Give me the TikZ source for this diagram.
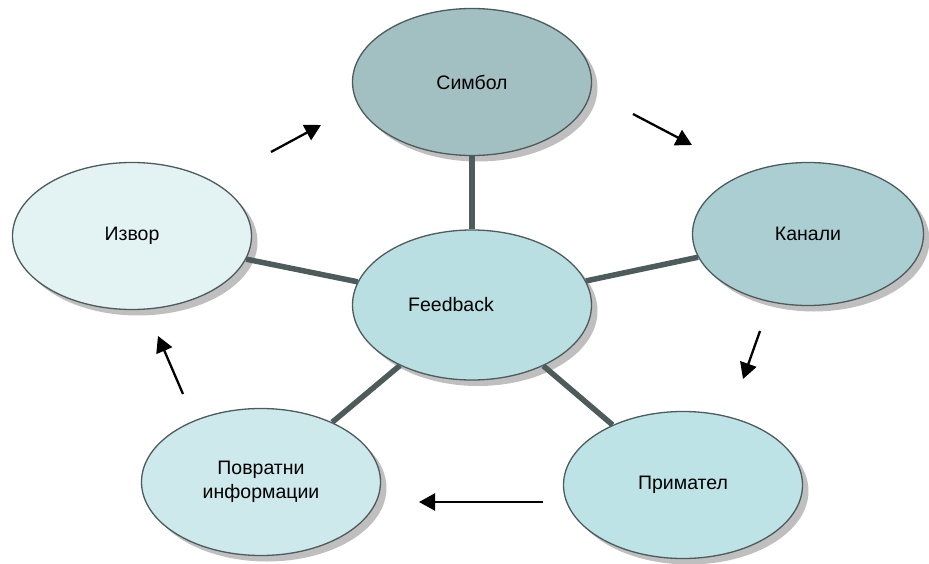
\documentclass[tikz,border=0pt]{standalone}
\usepackage{fontspec}
\setmainfont{Liberation Sans}
\usetikzlibrary{shapes.geometric,shadows,arrows.meta}
\definecolor{cSym}{HTML}{A2BFC1}
\definecolor{cKan}{HTML}{AACED1}
\definecolor{cIzv}{HTML}{E3F3F4}
\definecolor{cFb}{HTML}{B9DFE3}
\definecolor{cPov}{HTML}{CDE9EB}
\definecolor{cPri}{HTML}{BDE3E6}
\definecolor{cLine}{HTML}{4D5B5B}
\begin{document}
\begin{tikzpicture}[x=1pt,y=-1pt,
  bubble/.style={ellipse, draw=cLine, line width=1.3pt, inner sep=0pt,
    minimum width=239pt, minimum height=147pt, align=center,
    font=\fontsize{19.5}{23.5}\selectfont,
    drop shadow={shadow xshift=6pt, shadow yshift=-6pt, fill=black!25, opacity=1}},
  conn/.style={draw=cLine, line width=5.5pt},
  flow/.style={draw=black, line width=2.3pt, -{Triangle[length=16pt,width=17pt]}}]
\useasboundingbox (0,0) rectangle (929,564);
\node[bubble, fill=cSym] (sym) at (472,82) {Симбол};
\node[bubble, fill=cKan, minimum width=231pt, minimum height=143pt] (kan) at (808,234) {Канали};
\node[bubble, fill=cIzv] (izv) at (132,236) {Извор};
\node[bubble, fill=cFb, minimum height=150pt] (fb) at (472,305) {Feedback\hspace*{42pt}};
\node[bubble, fill=cPov] (pov) at (261,482) {Повратни\\информации};
\node[bubble, fill=cPri] (pri) at (683,485) {Примател};
\draw[conn] (fb) -- (sym);
\draw[conn] (fb) -- (izv);
\draw[conn] (fb) -- (kan);
\draw[conn] (fb) -- (pov);
\draw[conn] (fb) -- (pri);
\coordinate (a1s) at (271,152); \coordinate (a1e) at (321,125);
\coordinate (a2s) at (633,114); \coordinate (a2e) at (692,145);
\coordinate (a3s) at (760,331); \coordinate (a3e) at (743,379);
\coordinate (a4s) at (543,502); \coordinate (a4e) at (419,502);
\coordinate (a5s) at (183,394); \coordinate (a5e) at (158,336);
\draw[flow] (a1s) -- (a1e);
\draw[flow] (a2s) -- (a2e);
\draw[flow] (a3s) -- (a3e);
\draw[flow] (a4s) -- (a4e);
\draw[flow] (a5s) -- (a5e);
\end{tikzpicture}
\end{document}
